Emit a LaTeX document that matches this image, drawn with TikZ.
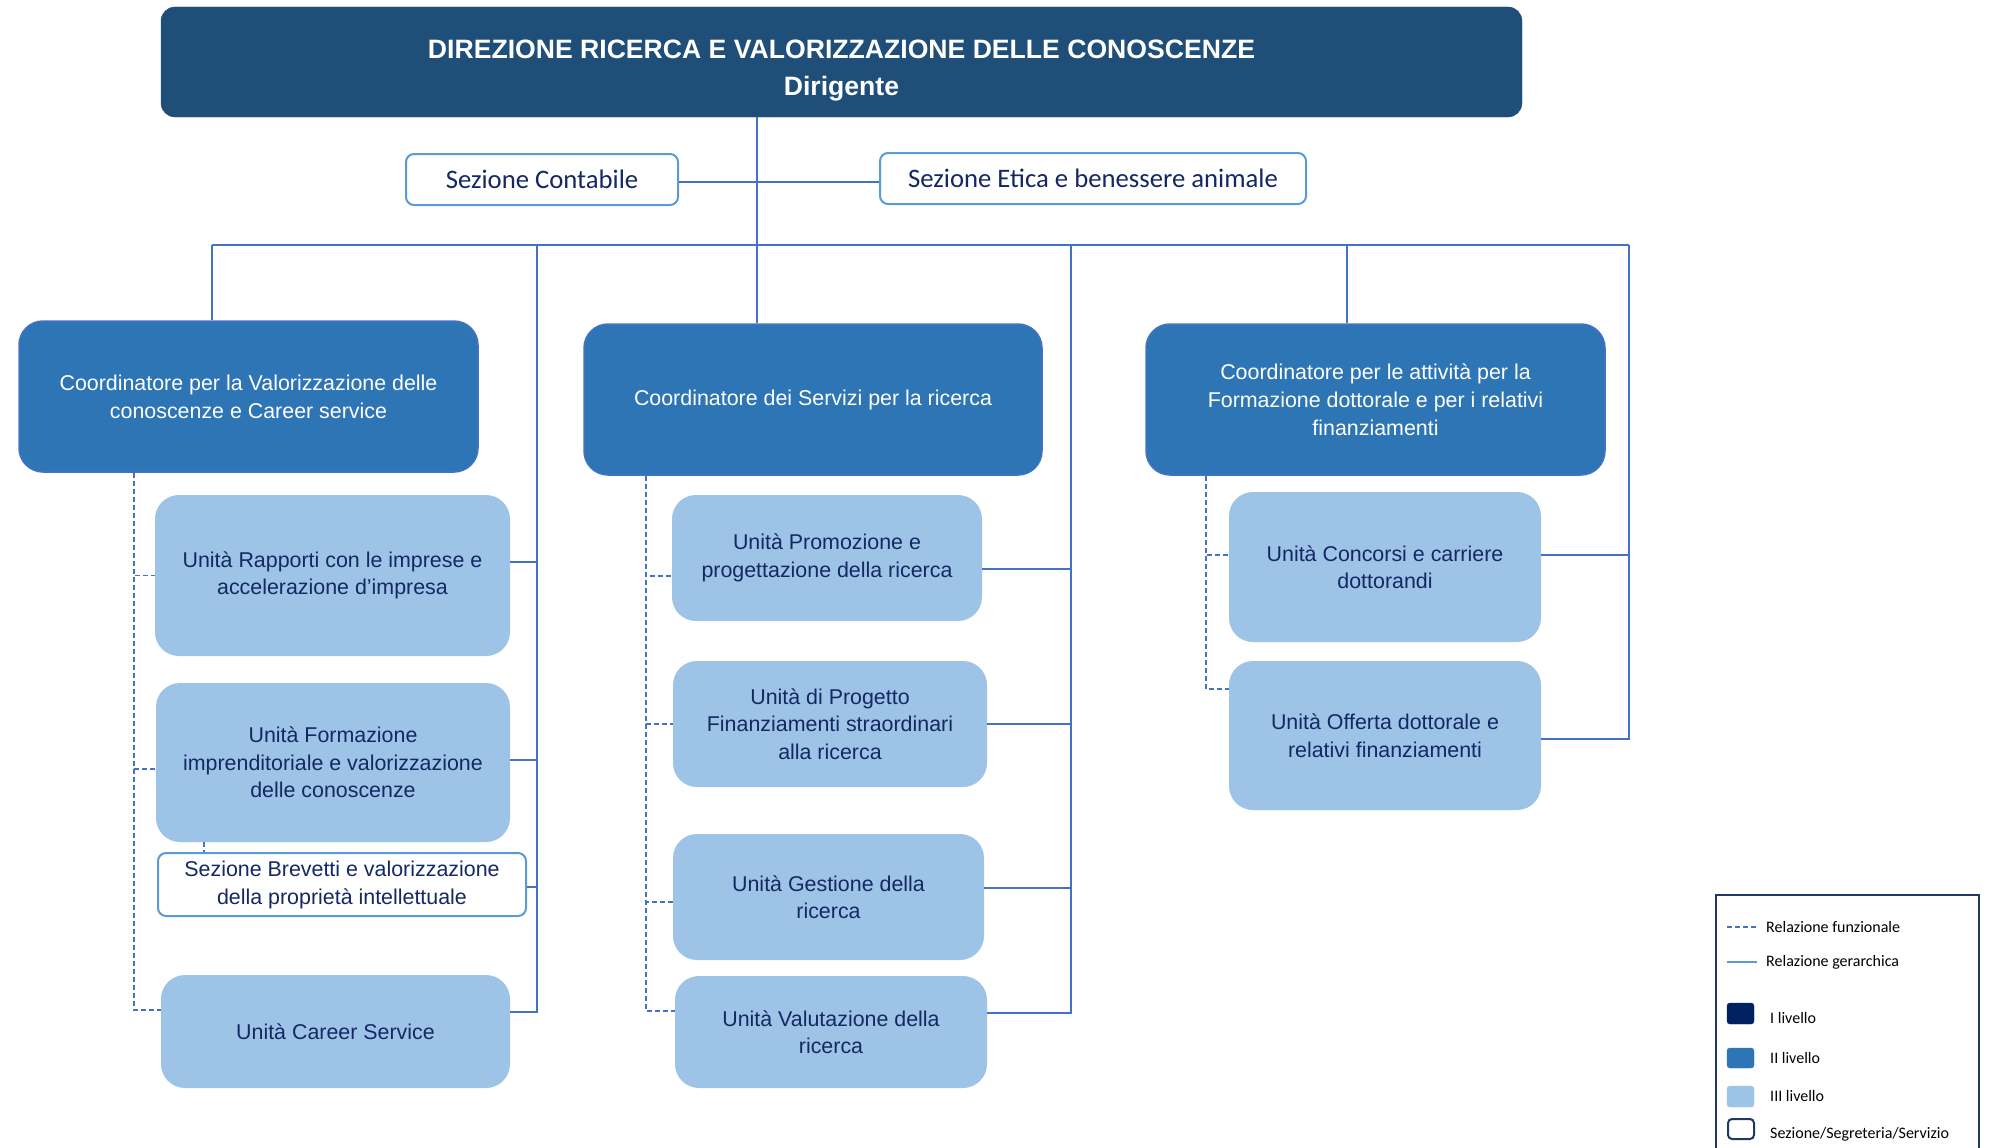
\documentclass[tikz,border=0pt]{standalone}
\usepackage{fontspec}
\usepackage{xcolor}
\usepackage{tikz}
\setmainfont{Liberation Sans}
\newfontfamily\carlito{Carlito}

\definecolor{blu1}{RGB}{31,78,121}
\definecolor{blu2}{RGB}{46,117,182}
\definecolor{blu3}{RGB}{157,195,230}
\definecolor{bordo2}{RGB}{68,114,196}
\definecolor{bordosez}{RGB}{91,155,213}
\definecolor{linea}{RGB}{68,114,196}
\definecolor{testo}{RGB}{20,40,100}
\definecolor{navy}{RGB}{0,32,96}
\definecolor{bordoleg}{RGB}{31,56,100}

\begin{document}
\begin{tikzpicture}[x=1pt, y=-1pt,
  misura/.style 2 args={minimum width=#1pt, minimum height=#2pt},
  livelloI/.style={rectangle, rounded corners=14pt, fill=blu1, draw=blu1, inner sep=0pt},
  titolo/.style={text=white, align=center, font=\fontsize{26.6}{37}\selectfont\bfseries},
  livelloII/.style={rectangle, rounded corners=24pt, fill=blu2, draw=bordo2, line width=1.5pt,
    inner sep=0pt, text=white, align=center, font=\fontsize{21.4}{28}\selectfont},
  livelloIII/.style={rectangle, rounded corners=24pt, fill=blu3, draw=none,
    inner sep=0pt, text=testo, align=center, font=\fontsize{21.4}{27.5}\selectfont},
  sezione/.style={rectangle, rounded corners=8pt, fill=white, draw=bordosez, line width=2pt,
    inner sep=0pt, text=testo, align=center, font=\fontsize{21.4}{28}\selectfont},
  gerarchica/.style={draw=linea, line width=1.3pt},
  funzionale/.style={draw=linea, line width=1.3pt, dash pattern=on 5pt off 3pt},
  voce/.style={anchor=west, inner sep=0pt, text=black, font=\carlito\fontsize{16}{19}\selectfont}]
  \useasboundingbox (0,0) rectangle (1990,1148);

  % Direzione (I livello)
  \node[livelloI, misura={1361}{110}] (dir) at (841.5,62) {};
  \node[titolo] (dirtesto) at (841.5,71) {DIREZIONE RICERCA E VALORIZZAZIONE DELLE CONOSCENZE\\Dirigente};

  % Sezioni di staff
  \node[sezione, misura={272}{51}, font=\carlito\fontsize{26.7}{32}\selectfont] (contabile) at (542,179.5) {Sezione Contabile};
  \node[sezione, misura={426}{51}, font=\carlito\fontsize{26.7}{32}\selectfont] (etica) at (1093,178.5) {Sezione Etica e benessere animale};

  % Coordinatori (II livello)
  \node[livelloII, misura={459}{151}] (valor) at (248.5,396.5) {Coordinatore per la Valorizzazione delle\\conoscenze e Career service};
  \node[livelloII, misura={458}{151}] (serv) at (813,399.5) {Coordinatore dei Servizi per la ricerca};
  \node[livelloII, misura={459}{151}] (form) at (1375.5,399.5) {Coordinatore per le attivit\`a per la\\Formazione dottorale e per i relativi\\finanziamenti};

  % Unita' (III livello) - colonna sinistra
  \node[livelloIII, misura={355}{161}] (rapporti) at (332.5,575.5) {Unit\`a Rapporti con le imprese e\\accelerazione d’impresa};
  \node[livelloIII, misura={354}{159}] (formazione) at (333,762.5) {Unit\`a Formazione\\imprenditoriale e valorizzazione\\delle conoscenze};
  \node[sezione, misura={368}{63}] (brevetti) at (342,884.5) {Sezione Brevetti e valorizzazione\\della propriet\`a intellettuale};
  \node[livelloIII, misura={349}{113}] (career) at (335.5,1031.5) {Unit\`a Career Service};

  % colonna centrale
  \node[livelloIII, misura={310}{126}] (promozione) at (827,558) {Unit\`a Promozione e\\progettazione della ricerca};
  \node[livelloIII, misura={314}{126}] (progetto) at (830,724) {Unit\`a di Progetto\\Finanziamenti straordinari\\alla ricerca};
  \node[livelloIII, misura={311}{126}] (gestione) at (828.5,897) {Unit\`a Gestione della\\ricerca};
  \node[livelloIII, misura={312}{112}] (valutazione) at (831,1032) {Unit\`a Valutazione della\\ricerca};

  % colonna destra
  \node[livelloIII, misura={312}{150}] (concorsi) at (1385,567) {Unit\`a Concorsi e carriere\\dottorandi};
  \node[livelloIII, misura={312}{149}] (offerta) at (1385,735.5) {Unit\`a Offerta dottorale e\\relativi finanziamenti};

  % Relazioni gerarchiche
  \coordinate (tronco) at (757,245);
  \coordinate (busSx) at (212,245);
  \coordinate (busDx) at (1629,245);
  \coordinate (ramoA) at (537,245);
  \coordinate (ramoB) at (1071,245);
  \coordinate (ramoC) at (1347,245);
  \coordinate (staff) at ([yshift=-2.5]contabile.east);
  \draw[gerarchica] (tronco |- dir.south) -- (tronco |- serv.north);
  \draw[gerarchica] (staff) -- (staff -| etica.west);
  \draw[gerarchica] (busSx) -- (busDx);
  \draw[gerarchica] (busSx) -- (busSx |- valor.north);
  \draw[gerarchica] (ramoC) -- (ramoC |- form.north);

  \coordinate (aR) at ([yshift=13.5]rapporti.east);
  \coordinate (aF) at ([yshift=2.5]formazione.east);
  \coordinate (aB) at ([yshift=-2.5]brevetti.east);
  \coordinate (aC) at ([yshift=19.5]career.east);
  \coordinate (bP) at ([yshift=-11]promozione.east);
  \coordinate (bF) at (progetto.east);
  \coordinate (bG) at ([yshift=9]gestione.east);
  \coordinate (bV) at ([yshift=19]valutazione.east);
  \coordinate (cC) at ([yshift=12]concorsi.east);
  \coordinate (cO) at ([yshift=-3.5]offerta.east);
  \foreach \p in {aR,aF,aB,aC} \draw[gerarchica] (ramoA) |- (\p);
  \foreach \p in {bP,bF,bG,bV} \draw[gerarchica] (ramoB) |- (\p);
  \foreach \p in {cC,cO} \draw[gerarchica] (busDx) |- (\p);

  % Relazioni funzionali
  \coordinate (fA) at (134,0);
  \coordinate (fB) at (646,0);
  \coordinate (fC) at (1206,0);
  \coordinate (fBrev) at (204,0);
  \coordinate (sR) at (rapporti.west);
  \coordinate (sF) at ([yshift=-6.5]formazione.west);
  \coordinate (sC) at ([yshift=21.5]career.west);
  \coordinate (tP) at ([yshift=-18]promozione.west);
  \coordinate (tF) at (progetto.west);
  \coordinate (tG) at ([yshift=-5]gestione.west);
  \coordinate (tV) at ([yshift=21]valutazione.west);
  \coordinate (uC) at ([yshift=12]concorsi.west);
  \coordinate (uO) at ([yshift=46.5]offerta.west);
  \foreach \p in {sR,sF,sC} \draw[funzionale] (fA |- valor.south) |- (\p);
  \foreach \p in {tP,tF,tG,tV} \draw[funzionale] (fB |- serv.south) |- (\p);
  \foreach \p in {uC,uO} \draw[funzionale] (fC |- form.south) |- (\p);
  \draw[funzionale] (fBrev |- formazione.south) -- (fBrev |- brevetti.north);

  % Legenda
  \draw[draw=bordoleg, line width=2pt] (1716,895) rectangle (1979,1170);
  \draw[funzionale] (1727,927) -- (1757,927);
  \draw[draw=bordosez, line width=1.3pt] (1727,962) -- (1757,962);
  \filldraw[fill=navy, draw=navy, rounded corners=3pt] (1727,1003) rectangle (1754,1024);
  \filldraw[fill=blu2, draw=blu2, rounded corners=3pt] (1727,1048) rectangle (1754,1068);
  \filldraw[fill=blu3, draw=blu3, rounded corners=3pt] (1727,1086) rectangle (1754,1107);
  \draw[draw=bordoleg, line width=2pt, rounded corners=4pt] (1728,1119) rectangle (1754,1139);
  \node[voce] (legfun) at (1766,927) {Relazione funzionale};
  \node[voce] (legger) at (1766,962) {Relazione gerarchica};
  \node[voce] (leg1) at (1770,1018) {I livello};
  \node[voce] (leg2) at (1770,1058) {II livello};
  \node[voce] (leg3) at (1770,1096) {III livello};
  \node[voce] (leg4) at (1770,1134) {Sezione/Segreteria/Servizio};
\end{tikzpicture}
\end{document}
